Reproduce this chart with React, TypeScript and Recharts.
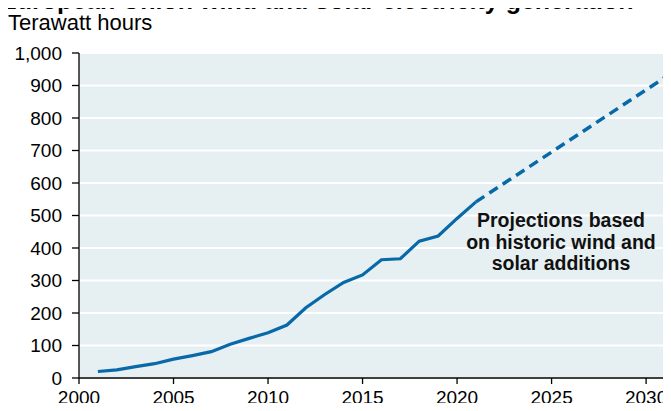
import React from 'react';
import { LineChart, Line, XAxis, YAxis, CartesianGrid } from 'recharts';

const title = 'European Union wind and solar electricity generation';
const subtitle = 'Terawatt hours';
const annotationLines = ['Projections based', 'on historic wind and', 'solar additions'];

const years = [2001, 2002, 2003, 2004, 2005, 2006, 2007, 2008, 2009, 2010, 2011, 2012, 2013, 2014, 2015, 2016, 2017, 2018, 2019, 2020, 2021];
const generation = [20, 25, 35, 44, 58, 69, 81, 104, 122, 139, 163, 216, 257, 294, 317, 364, 367, 421, 437, 491, 542];

const projectionYears = [2021, 2031];
const projectionValues = [542, 925];

const xTicks = [2000, 2005, 2010, 2015, 2020, 2025, 2030];
const yTicks = [0, 100, 200, 300, 400, 500, 600, 700, 800, 900, 1000];

type Row = { year: number; actual?: number; projection?: number };

const buildData = (): Row[] => {
  const map = new Map<number, Row>();
  years.forEach((y, i) => {
    map.set(y, { year: y, actual: generation[i] });
  });
  projectionYears.forEach((y, i) => {
    const r = map.get(y) || { year: y };
    r.projection = projectionValues[i];
    map.set(y, r);
  });
  return Array.from(map.values()).sort((a, b) => a.year - b.year);
};

const data = buildData();

const FONT = '"Liberation Sans", Arial, Helvetica, sans-serif';
const LINE = '#0769A8';

export default function App() {
  return (
    <div style={{ position: 'relative', margin: -8, width: 671, height: 411, background: '#fff', overflow: 'hidden' }}>
      <LineChart
        width={671}
        height={411}
        data={data}
        margin={{ top: 53, right: 6, bottom: 3, left: 0 }}
        style={{ fontFamily: FONT }}
      >
        <CartesianGrid fill="#E6EFF2" stroke="#ffffff" strokeWidth={2} vertical={false} />
        <XAxis
          dataKey="year"
          type="number"
          domain={[2000, 2031]}
          ticks={xTicks}
          allowDataOverflow
          height={30}
          tickSize={6}
          tickMargin={7}
          stroke="#000"
          strokeWidth={1.3}
          tick={{ fill: '#000', fontSize: 19 }}
        />
        <YAxis
          type="number"
          domain={[0, 1000]}
          ticks={yTicks}
          width={79}
          tickSize={7}
          tickMargin={10}
          stroke="#000"
          strokeWidth={1.3}
          tick={{ fill: '#000', fontSize: 19 }}
          tickFormatter={(v: number) => v.toLocaleString('en-US')}
        />
        <Line
          dataKey="actual"
          stroke={LINE}
          strokeWidth={3.2}
          dot={false}
          isAnimationActive={false}
          connectNulls={false}
        />
        <Line
          dataKey="projection"
          stroke={LINE}
          strokeWidth={3.5}
          strokeDasharray="10 6"
          dot={false}
          isAnimationActive={false}
          connectNulls
        />
      </LineChart>
      <svg
        width={671}
        height={411}
        style={{ position: 'absolute', left: 0, top: 0, pointerEvents: 'none', fontFamily: FONT }}
      >
        <text x={0} y={9} fontSize={25} fontWeight="bold" fill="#000">{title}</text>
        <text x={8} y={30} fontSize={22} fill="#000">{subtitle}</text>
        {annotationLines.map((t, i) => (
          <text key={i} x={561} y={227 + i * 21.5} fontSize={19.5} fontWeight="bold" fill="#111" textAnchor="middle">
            {t}
          </text>
        ))}
      </svg>
    </div>
  );
}
